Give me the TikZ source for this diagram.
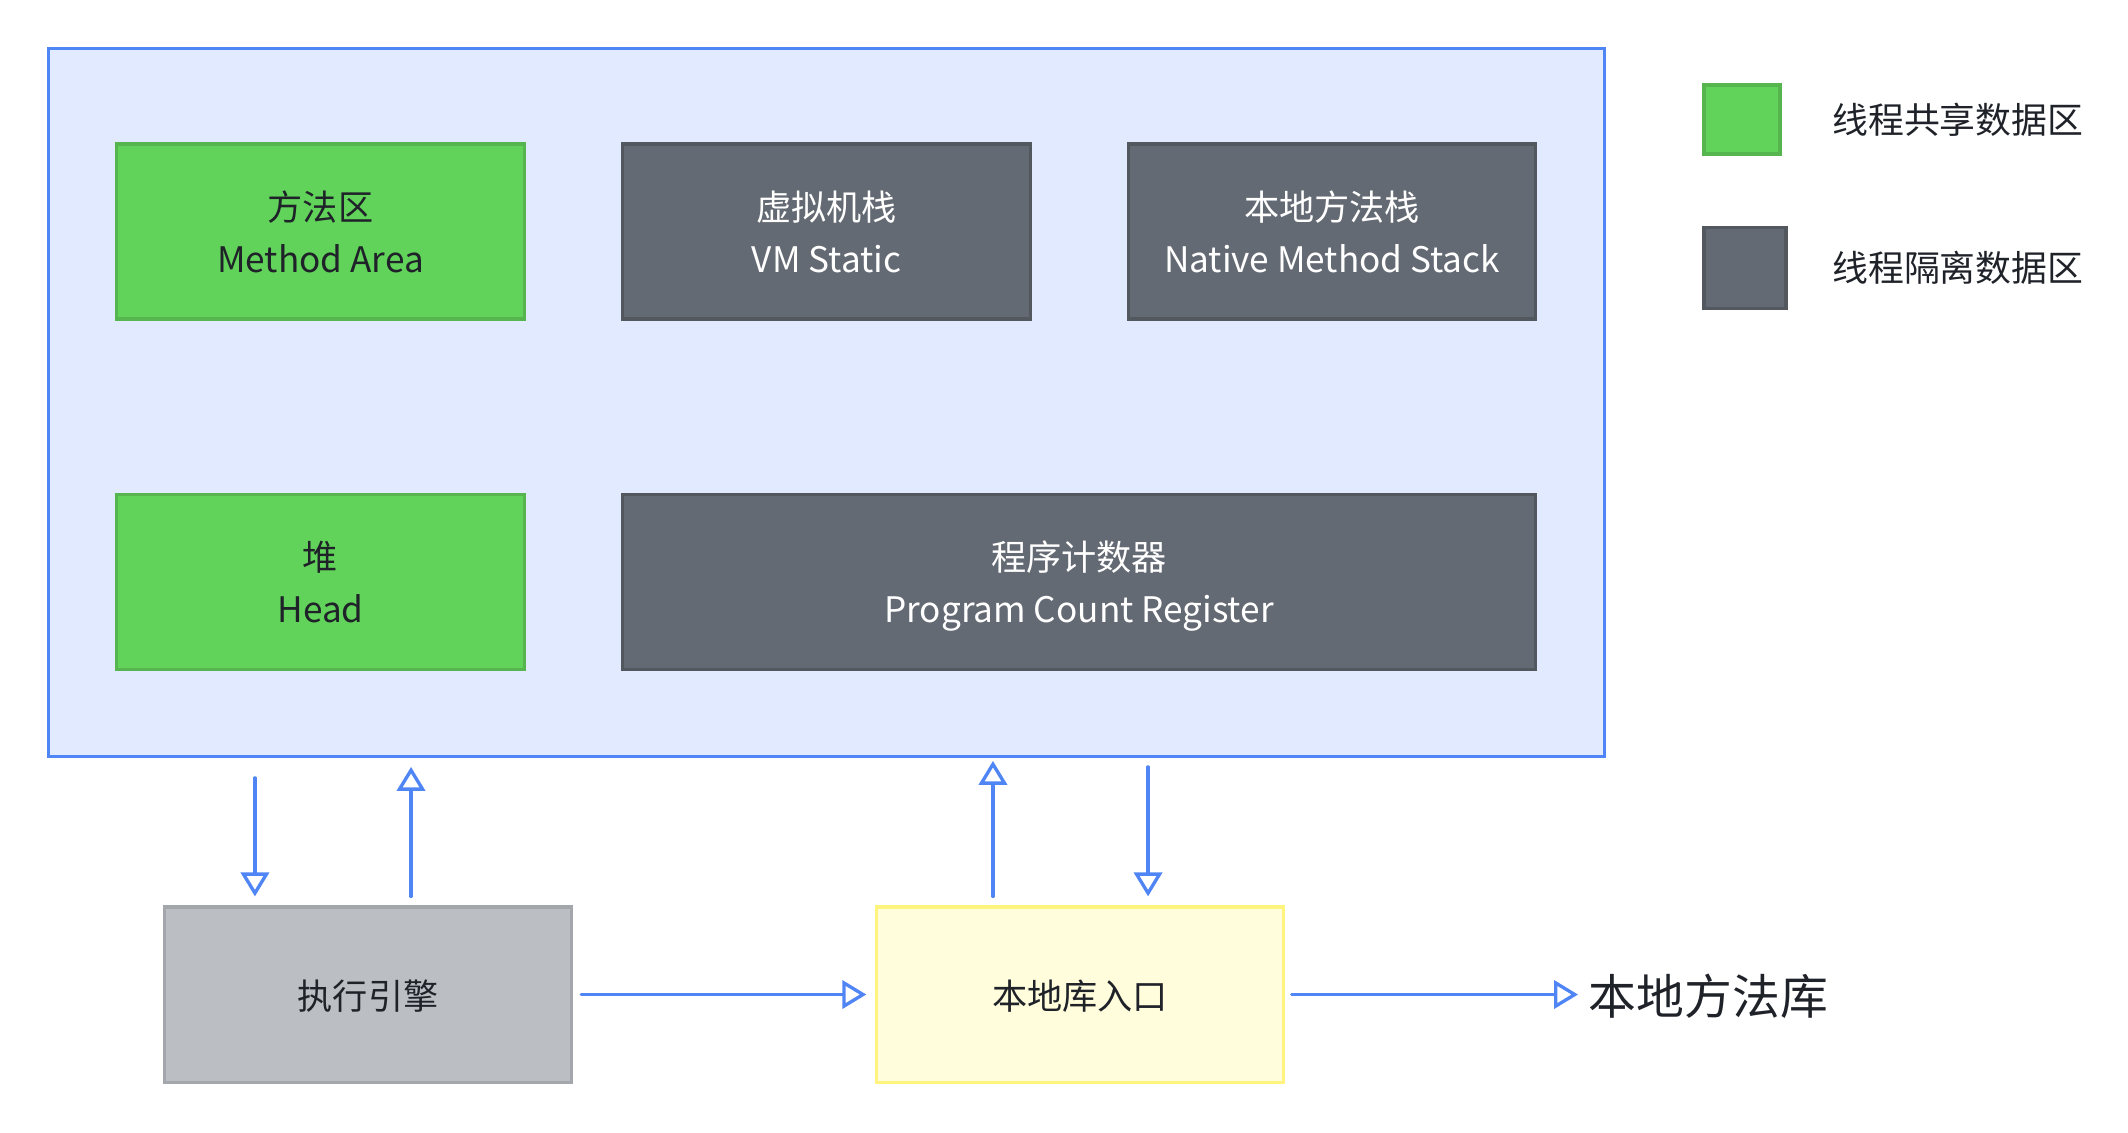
\documentclass[tikz,border=0pt]{standalone}
\usepackage{fontspec}
\setmainfont{Noto Sans CJK SC}
\usetikzlibrary{arrows.meta,positioning}
\definecolor{jvmfill}{HTML}{E1EAFE}
\definecolor{jvmline}{HTML}{5085F5}
\definecolor{sharefill}{HTML}{62D35A}
\definecolor{shareline}{HTML}{57B54F}
\definecolor{privfill}{HTML}{646A73}
\definecolor{privline}{HTML}{53585F}
\definecolor{execfill}{HTML}{BBBFC4}
\definecolor{execline}{HTML}{A3A6AA}
\definecolor{entryfill}{HTML}{FFFDDB}
\definecolor{entryline}{HTML}{FFF47E}
\definecolor{ink}{HTML}{1F2329}
\tikzset{
	area/.style={draw, line width=0.9pt, minimum width=4.07cm, minimum height=1.75cm, align=center, text depth=0pt, font=\fontsize{10}{14.8}\selectfont},
	shared/.style={area, fill=sharefill, draw=shareline, text=ink},
	private/.style={area, fill=privfill, draw=privline, text=white},
	keytext/.style={inner sep=0, text=ink, font=\fontsize{10.2}{12}\selectfont},
	flow/.style={draw=jvmline, line width=0.95pt, line cap=round, -{Triangle[open, width=8pt, length=6.8pt]}},
}
\begin{document}
\begin{tikzpicture}[x=0.01cm, y=-0.01cm]
	\useasboundingbox (0,0) rectangle (2128,1132);
	% runtime data area
	\node[draw=jvmline, fill=jvmfill, line width=0.95pt, minimum width=15.55cm, minimum height=7.07cm] (jvm) at (826.5,402.5) {};
	\foreach \nm/\x/\sty/\txt in {method/320.5/shared/{方法区\\Method Area},vmstack/826.5/private/{虚拟机栈\\VM Static},nstack/1332/private/{本地方法栈\\Native Method Stack}}
	\node[\sty] (\nm) at (\x,231.5) {\txt};
	\node[shared] (heap) at (320.5,582) {堆\\Head};
	\node[private, minimum width=9.12cm] (pcreg) at (1079,582) {程序计数器\\Program Count Register};
	% lower row
	\node[area, fill=execfill, draw=execline, text=ink] (exec) at (368,994.5) {执行引擎};
	\node[area, fill=entryfill, draw=entryline, text=ink, minimum width=4.06cm] (entry) at (1080,994.5) {本地库入口};
	\node[inner sep=0, text=ink, font=\fontsize{13.6}{16}\selectfont, anchor=west] (nlib) at (1588,996) {本地方法库};
	% legend
	\node[shared, minimum width=0.76cm, minimum height=0.69cm] (keyshare) at (1742,119.5) {};
	\node[private, minimum width=0.82cm, minimum height=0.81cm] (keypriv) at (1745,268) {};
	\node[keytext, right=0.5cm of keyshare] (keysharetxt) {线程共享数据区};
	\node[keytext, right=0.44cm of keypriv] (keyprivtxt) {线程隔离数据区};
	% arrows
	\draw[flow, shorten <=0.2cm, shorten >=0.09cm] ([xshift=-1.13cm]exec.north |- jvm.south) -- ([xshift=-1.13cm]exec.north);
	\draw[flow, shorten <=0.09cm, shorten >=0.09cm] ([xshift=0.43cm]exec.north) -- ([xshift=0.43cm]exec.north |- jvm.south);
	\draw[flow, shorten <=0.09cm, shorten >=0.03cm] ([xshift=-0.87cm]entry.north) -- ([xshift=-0.87cm]entry.north |- jvm.south);
	\draw[flow, shorten <=0.09cm, shorten >=0.09cm] ([xshift=0.68cm]entry.north |- jvm.south) -- ([xshift=0.68cm]entry.north);
	\draw[flow, shorten <=0.08cm, shorten >=0.09cm] (exec) -- (entry);
	\draw[flow, shorten <=0.07cm, shorten >=0.1cm] (entry.east) -- (entry.east -| nlib.west);
\end{tikzpicture}
\end{document}
